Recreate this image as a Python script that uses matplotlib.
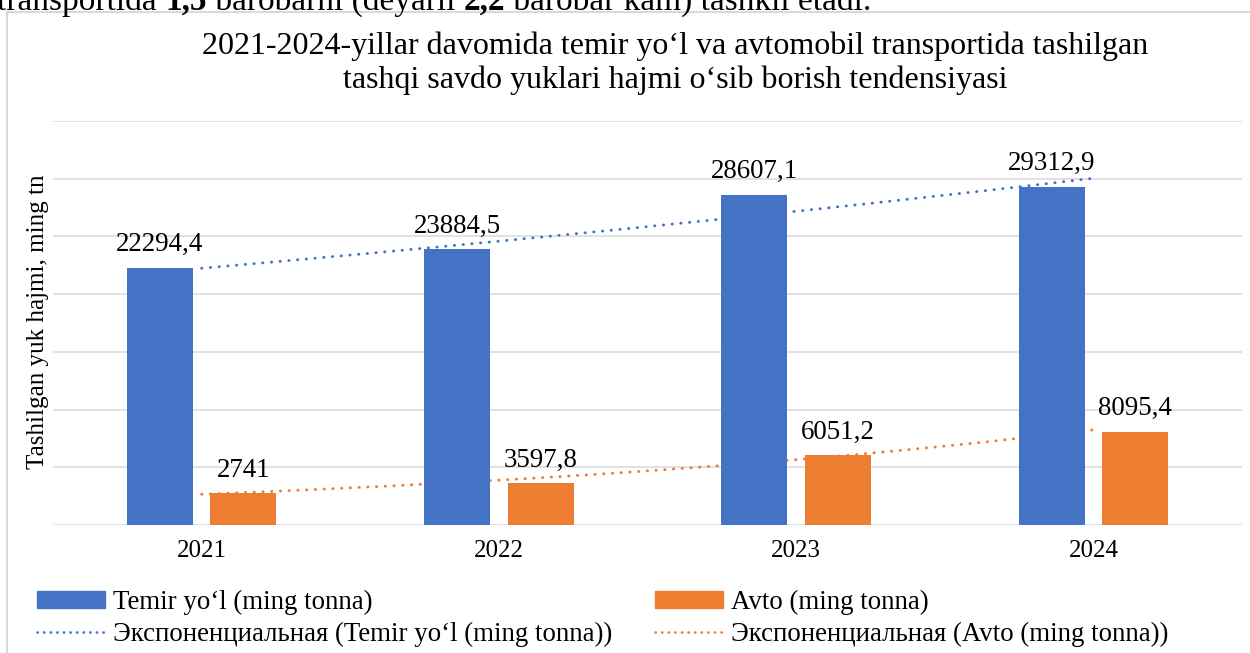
import matplotlib
matplotlib.use("Agg")
import matplotlib.pyplot as plt
import numpy as np
from matplotlib.patches import Patch, Rectangle
from matplotlib.lines import Line2D

plt.rcParams["font.family"] = ["Liberation Serif", "DejaVu Serif"]

years = ["2021", "2022", "2023", "2024"]
temir = [22294.4, 23884.5, 28607.1, 29312.9]
avto = [2741.0, 3597.8, 6051.2, 8095.4]
temir_labels = ["22294,4", "23884,5", "28607,1", "29312,9"]
avto_labels = ["2741", "3597,8", "6051,2", "8095,4"]

title = ("2021-2024-yillar davomida temir yo\u2018l va avtomobil transportida tashilgan\n"
         "tashqi savdo yuklari hajmi o\u2018sib borish tendensiyasi")
ylabel = "Tashilgan yuk hajmi, ming tn"
name_temir = "Temir yo\u2018l (ming tonna)"
name_avto = "Avto (ming tonna)"
trend_temir = "Экспоненциальная (Temir yo\u2018l (ming tonna))"
trend_avto = "Экспоненциальная (Avto (ming tonna))"
# body text line above the chart, cut off by the top edge (bold pieces marked True)
top_parts = [("transportida ", False), ("1,5", True), (" barobarni (deyarli ", False),
             ("2,2", True), (" barobar kam) tashkil etadi.", False)]

BLUE = "#4472C4"
ORANGE = "#ED7D31"
GRID = "#D9D9D9"

W, H = 1250, 653
fig = plt.figure(figsize=(W / 100, H / 100), dpi=100)


def px(x0, y0, x1, y1):
    return [x0 / W, 1 - y1 / H, (x1 - x0) / W, (y1 - y0) / H]


fig.patches.append(Rectangle((7 / W, -0.1), 1.2, 1 - 12 / H + 0.1, transform=fig.transFigure,
                             fill=False, edgecolor=GRID, linewidth=1.5))

renderer = fig.canvas.get_renderer()
cur = -3
for part, bold in top_parts:
    t = fig.text(cur / W, 1 - 10 / H, part, fontsize=24, ha="left", va="baseline",
                 fontweight="bold" if bold else "normal")
    cur += t.get_window_extent(renderer).width

ax = fig.add_axes(px(53, 121, 1242, 525))
x = np.arange(len(years))
bw = 0.222
off = 0.1406

ax.bar(x - off, temir, bw, color=BLUE, zorder=3)
ax.bar(x + off, avto, bw, color=ORANGE, zorder=3)

# exponential trendlines, fitted like Excel does (ln y vs category index)
xs = np.linspace(0, 3, 200)
for vals, col in ((temir, BLUE), (avto, ORANGE)):
    b, a = np.polyfit(x + 1, np.log(vals), 1)
    ax.plot(xs, np.exp(a + b * (xs + 1)), color=col, lw=2.1,
            linestyle=(0, (0.1, 2.9)), dash_capstyle="round", zorder=2)

for xi, v, lab in zip(x, temir, temir_labels):
    ax.annotate(lab, (xi - off, v), xytext=(0, 7.5), textcoords="offset points",
                ha="center", va="bottom", fontsize=19.4)
for xi, v, lab in zip(x, avto, avto_labels):
    ax.annotate(lab, (xi + off, v), xytext=(0, 7.5), textcoords="offset points",
                ha="center", va="bottom", fontsize=19.4)

ax.set_xlim(-0.5, 3.5)
ax.set_ylim(0, 35000)
ax.set_yticks(np.arange(0, 35001, 5000))
ax.set_yticklabels([])
ax.set_xticks(x)
ax.set_xticklabels(years, fontsize=18)
ax.tick_params(length=0, pad=11)
ax.grid(axis="y", color=GRID, linewidth=1.1, zorder=0)
for s in ax.spines.values():
    s.set_visible(False)

fig.text(675 / W, 1 - 63.5 / H, title, fontsize=23, ha="center", va="center", linespacing=1.2)
fig.text(38 / W, 1 - 322 / H, ylabel, fontsize=18.1, rotation=90, ha="center", va="center")

hl = dict(frameon=False, fontsize=19.4, handlelength=2.52, handleheight=0.6, handletextpad=0.3,
          labelspacing=0.25, borderpad=0, borderaxespad=0, loc="upper left")
dots = dict(lw=1.9, linestyle=(0, (0.1, 2.4)), dash_capstyle="round")
fig.legend(handles=[Patch(color=BLUE), Line2D([], [], color=BLUE, **dots)],
           labels=[name_temir, trend_temir], bbox_to_anchor=(37 / W, 1 - 590 / H), **hl)
fig.legend(handles=[Patch(color=ORANGE), Line2D([], [], color=ORANGE, **dots)],
           labels=[name_avto, trend_avto], bbox_to_anchor=(655 / W, 1 - 590 / H), **hl)

fig.savefig("out.png", dpi=100)
